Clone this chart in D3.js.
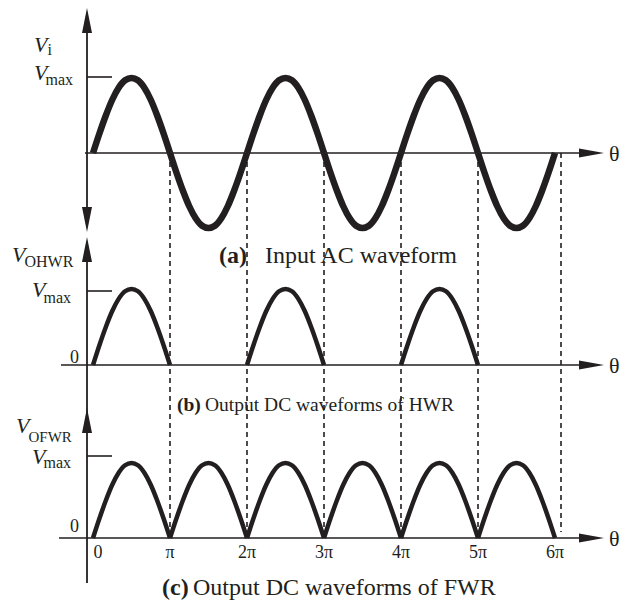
<!DOCTYPE html>
<html><head><meta charset="utf-8">
<script src="https://cdn.jsdelivr.net/npm/d3@7"></script>
<style>body{margin:0;background:#fff}svg{display:block}text{font-family:"Liberation Serif","Times New Roman",serif;fill:#231f20}</style>
</head><body><svg id="c" width="621" height="607"></svg>
<script>
// ---- data ----
const tickLabels = ["0", "π", "2π", "3π", "4π", "5π", "6π"];
const tickMultiples = [0, 1, 2, 3, 4, 5, 6];          // θ in units of π
const halfCycleShape = [0, 0.26, 0.5, 0.71, 0.87, 0.97, 1, 0.97, 0.87, 0.71, 0.5, 0.26, 0]; // read per π/12
const inputSigns = [1, -1, 1, -1, 1, -1];
const hwrSigns = [1, 0, 1, 0, 1, 0];
const fwrSigns = [1, 1, 1, 1, 1, 1];
const dashMultiples = [1, 2, 3, 4, 5, 6];
const yLabels = ["i", "OHWR", "OFWR"];
const captionTags = ["(a)", "(b)", "(c)"];
const captionTexts = ["Input AC waveform", "Output DC waveforms of HWR", "Output DC waveforms of FWR"];

// ---- drawing ----
const svg = d3.select("#c");
const ink = "#231f20";
const x = d3.scaleLinear().domain([0, 6]).range([93, 555]);
const yA = d3.scaleLinear().domain([-1, 1]).range([228, 78]);
const yB = d3.scaleLinear().domain([0, 1]).range([365, 289]);
const yC = d3.scaleLinear().domain([0, 1]).range([538, 463]);
const axisX = 87;

// dashed guides
svg.append("g").selectAll("line").data(dashMultiples).join("line")
  .attr("x1", d => x(d) + (d === 6 ? 6 : 0)).attr("x2", d => x(d) + (d === 6 ? 6 : 0))
  .attr("y1", yA(0)).attr("y2", d => d === 6 ? yC(0) - 6 : yC(0))
  .attr("stroke", ink).attr("stroke-width", 1.6).attr("stroke-dasharray", "5,4");

// axes
function arrow(tipX, tipY, dir) {
  const L = 25, w = 5;
  let p;
  if (dir === "up") p = [[tipX, tipY], [tipX - w, tipY + L], [tipX + w, tipY + L]];
  else if (dir === "down") p = [[tipX, tipY], [tipX - w, tipY - L], [tipX + w, tipY - L]];
  else p = [[tipX, tipY], [tipX - L, tipY - 4.5], [tipX - L, tipY + 4.5]];
  svg.append("path").attr("d", d3.line()(p) + "Z").attr("fill", ink);
}
const ax = svg.append("g").attr("stroke", ink).attr("stroke-width", 1.8);
ax.append("line").attr("x1", axisX).attr("x2", axisX).attr("y1", 20).attr("y2", 222);
ax.append("line").attr("x1", axisX).attr("x2", axisX).attr("y1", 250).attr("y2", 583);
arrow(axisX, 8, "up"); arrow(axisX, 232, "down"); arrow(axisX, 237, "up"); arrow(axisX, 408, "up");

const baselines = [[yA(0), 85], [yB(0), 61], [yC(0), 59]];
baselines.forEach(([by, x0]) => {
  svg.append("line").attr("x1", x0).attr("x2", 590).attr("y1", by).attr("y2", by)
    .attr("stroke", ink).attr("stroke-width", 1.6);
  arrow(604, by, "right");
  svg.append("text").attr("x", 609).attr("y", by + 8).attr("font-size", 22).text("θ");
});

// Vmax ticks
[yA(1) - 1, yB(1) + 2, yC(1) - 7].forEach(ty => {
  svg.append("line").attr("x1", axisX).attr("x2", 112).attr("y1", ty).attr("y2", ty)
    .attr("stroke", ink).attr("stroke-width", 1.6);
});

// waveforms
const line = d3.line().curve(d3.curveMonotoneX);
function drawWave(signs, yScale, width) {
  signs.forEach((s, k) => {
    if (s === 0) return;
    const pts = halfCycleShape.map((v, i) => [x(k + i / (halfCycleShape.length - 1)), yScale(s * v)]);
    svg.append("path").attr("d", line(pts)).attr("fill", "none")
      .attr("stroke", ink).attr("stroke-width", width).attr("stroke-linecap", "butt");
  });
}
drawWave(inputSigns, yA, 6.5);
drawWave(hwrSigns, yB, 4.5);
drawWave(fwrSigns, yC, 4.5);

// y labels
function vLabel(xv, yb, sub, subDx, subDy, subSize) {
  const t = svg.append("text").attr("x", xv).attr("y", yb).attr("font-size", 22);
  t.append("tspan").attr("font-style", "italic").text("V");
  t.append("tspan").attr("dx", subDx).attr("dy", subDy).attr("font-size", subSize).text(sub);
}
vLabel(34, 52, yLabels[0], 0, 3, 16);
vLabel(34, 80, "max", -2, 5, 16);
vLabel(12, 262, yLabels[1], -1, 5, 16);
vLabel(32, 297, "max", -2, 6, 16);
vLabel(16, 433, yLabels[2], -1, 9, 15);
vLabel(32, 464, "max", -2, 4, 16);
svg.append("text").attr("x", 70).attr("y", 363).attr("font-size", 18).text("0");
svg.append("text").attr("x", 70).attr("y", 532).attr("font-size", 18).text("0");

// x tick labels (panel c)
svg.append("g").selectAll("text").data(tickMultiples).join("text")
  .attr("x", d => x(d) + (d === 0 ? 5 : 0)).attr("y", 558)
  .attr("text-anchor", "middle").attr("font-size", 18)
  .text((d, i) => tickLabels[i]);

// captions: [tagX, baseline, textX, fontSize]
const capPos = [[219, 263, 265, 24], [177, 411, 205, 19.5], [162, 595, 193, 24]];
capPos.forEach(([cx, cy, tx, fs], i) => {
  svg.append("text").attr("x", cx).attr("y", cy).attr("font-size", fs).attr("font-weight", "bold").text(captionTags[i]);
  svg.append("text").attr("x", tx).attr("y", cy).attr("font-size", fs).text(captionTexts[i]);
});
</script></body></html>
